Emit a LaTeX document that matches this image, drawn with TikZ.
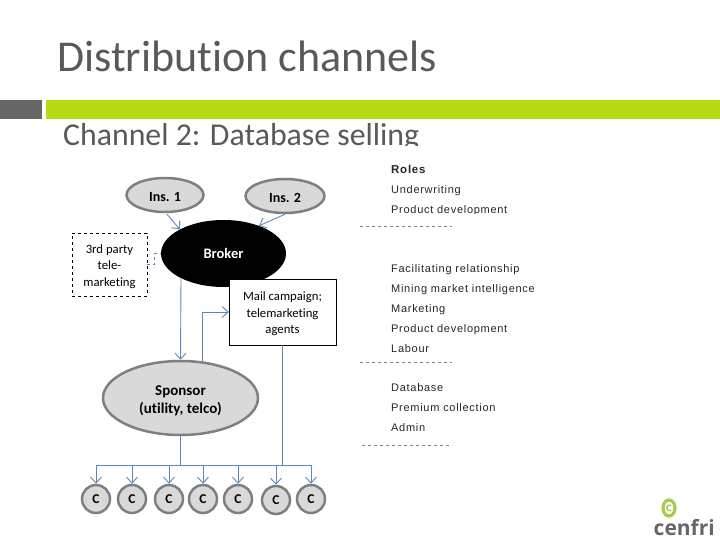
\documentclass[tikz,border=0pt]{standalone}
\usepackage{fontspec}
\setmainfont{Carlito}[Ligatures=NoCommon]
\newfontfamily\rolefont{Liberation Sans}[LetterSpace=6.5]
\newfontfamily\logofont{Open Sans}
\usetikzlibrary{arrows.meta,shapes.geometric}

\definecolor{barGreen}{HTML}{B5DB12}
\definecolor{barGrey}{HTML}{666666}
\definecolor{titleGrey}{HTML}{595959}
\definecolor{linkBlue}{HTML}{5C88B5}
\definecolor{partyFill}{HTML}{D9D9D9}
\definecolor{partyLine}{HTML}{7F7F7F}
\definecolor{logoGreen}{HTML}{A9CB4B}

\newcommand{\toplift}{\rule{0pt}{1em}}

\tikzset{
    party/.style={ellipse,draw=partyLine,line width=2.5pt,fill=partyFill,inner sep=0pt,
        align=center,font=\fontsize{14}{18}\selectfont\bfseries},
    client/.style={party,circle,minimum size=28pt,font=\fontsize{13.5}{15}\selectfont\bfseries},
    agentbox/.style={rectangle,draw=black,inner sep=0pt,align=center,
        font=\fontsize{12.7}{16.5}\selectfont},
    link/.style={linkBlue,line width=0.9pt},
    linkhead/.style={link,-{Straight Barb[length=6pt,width=11pt]}},
    rolelist/.style={anchor=base west,inner sep=0pt,text=black!85,
        font=\fontsize{11}{12}\selectfont\rolefont},
    rolerule/.style={dashed,linkBlue!80!gray,line width=0.6pt}
}

\begin{document}
\begin{tikzpicture}[x=1pt,y=-1pt]

\useasboundingbox (0,0) rectangle (720,540);

% Header
\node[anchor=base west,inner sep=0pt,text=titleGrey,font=\fontsize{44}{44}\selectfont] (title) at (57,72) {Distribution channels};
\fill[barGrey] (0,100) rectangle (42,119);
\fill[barGreen] (46,100) rectangle (720,119);
\node[anchor=base west,inner sep=0pt,text=titleGrey,font=\fontsize{31.8}{32}\selectfont] (subtitle) at (63,146) {Channel 2: Database selling};
\fill[white] (50,146.5) rectangle (440,156);

% Parties
\node[party,minimum width=77pt,minimum height=34pt] (ins1) at (165,195) {\toplift Ins. 1};
\node[party,minimum width=79pt,minimum height=34pt] (ins2) at (285,196) {\toplift Ins. 2};
\node[ellipse,fill=black,text=white,minimum width=125pt,minimum height=67pt,inner sep=0pt,
    font=\fontsize{14.5}{18}\selectfont\bfseries] (broker) at (223.5,253.5) {Broker};
\node[party,minimum width=155pt,minimum height=74pt,font=\fontsize{15}{18}\selectfont\bfseries] (sponsor) at (180.5,398) {\toplift Sponsor\\(utility, telco)};

% Outsourced parties
\node[agentbox,draw,dashed,minimum width=75pt,minimum height=63pt] (third) at (109.5,264.5) {\toplift 3rd party\\tele-\\marketing};
\node[agentbox,fill=white,minimum width=107pt,minimum height=66pt] (mail) at (282.5,312) {\toplift Mail campaign;\\telemarketing\\agents};

% Clients
\foreach \cname/\cx/\cy in {c1/96/499,c2/132/499,c3/169/499,c4/203/499,c5/238/499,c6/276/500,c7/311/499}
    \node[client] (\cname) at (\cx,\cy) {C};

% Bus above the clients
\coordinate (busleft) at (c1.north |- 0,465);
\coordinate (busright) at (c7.north |- 0,465);
\draw[link] (busleft) -- (busright);
\foreach \cname in {c1,c2,c3,c4,c5,c6,c7}
    \draw[linkhead] (\cname.north |- busleft) -- (\cname.north);

% Links
\draw[linkhead] (ins1.south) ++ (2,1) -- (broker.151);
\draw[linkhead] (ins2.south) -- (broker.38);
\draw[link,dashed] (third.east) -- ++ (7,0) |- (broker.west);
\draw[linkhead] (broker.south -| 181,0) ++ (0,-9) -- (sponsor.north);
\draw[linkhead] (sponsor.north -| 202,0) ++ (0,1) |- (mail.west);
\draw[link] (sponsor.south) -- (sponsor.south |- busleft);
\draw[link] (mail.south) -- (mail.south |- busleft);

% Roles
\node[rolelist,font=\fontsize{11.5}{12}\selectfont\rolefont\bfseries] (roles) at (391,173.5) {Roles};
\foreach \rname/\ry/\rtext in {r1/193.5/Underwriting,r2/213.5/Product development,
    r3/272.5/Facilitating relationship,r4/292.5/Mining market intelligence,r5/312.5/Marketing,
    r6/332.5/Product development,r7/352.5/Labour,
    r8/391.5/Database,r9/411.5/Premium collection,r10/431.5/Admin}
    \node[rolelist] (\rname) at (391,\ry) {\rtext};
\fill[white] (385,214) rectangle (520,220);
\draw[rolerule] (360,226) -- (452,226);
\draw[rolerule] (360,362.5) -- (452,362.5);
\draw[rolerule] (362,445) -- (452,445);

% Logo
\draw[logoGreen,line width=3.2pt] (669,508) ellipse (6pt and 8pt);
\draw[logoGreen,line width=1.5pt] (671,505.5) arc (60:300:2.8pt);
\node[anchor=base east,inner sep=0pt,text=barGrey,font=\fontsize{21}{21}\selectfont\logofont\bfseries] (logo) at (715,535) {cenfri};

\end{tikzpicture}
\end{document}
